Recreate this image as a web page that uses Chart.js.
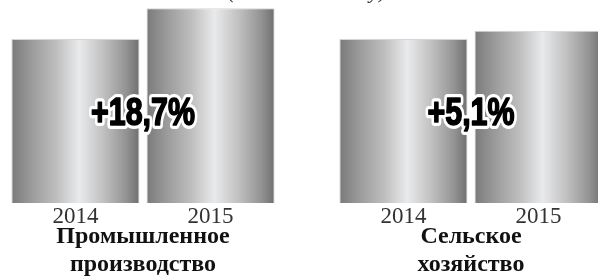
<!DOCTYPE html>
<html>
<head>
<meta charset="utf-8">
<script src="https://cdn.jsdelivr.net/npm/chart.js@4.4.1/dist/chart.umd.min.js"></script>
<style>
  html, body { margin: 0; padding: 0; background: #fff; }
  #wrap { position: relative; width: 598px; height: 277px; overflow: hidden; }
  #chart { position: absolute; left: -21px; top: -21px; }
</style>
</head>
<body>
<div id="wrap"><canvas id="chart" width="656" height="298"></canvas></div>
<script>
// Chart data
const categories = [['Промышленное', 'производство'], ['Сельское', 'хозяйство']];
const years = ['2014', '2015'];
const values2014 = [100, 100];
const values2015 = [118.7, 105.1];
const changes = ['+18,7%', '+5,1%'];
const subtitle = '(в % к 2014 году)';

const CAT_PCT = 0.824;
const BAR_PCT = 0.948;

// Metallic gradient, built per bar from the x scale
const metalFill = (ctx) => {
  const chart = ctx.chart;
  const xs = chart.scales.x;
  if (!chart.chartArea || !xs || ctx.dataIndex === undefined) return '#b0b0b0';
  const center = xs.getPixelForValue(ctx.dataIndex);
  const groupW = xs.width / categories.length * CAT_PCT;
  const slot = groupW / years.length;
  const barCenter = center - groupW / 2 + slot * (ctx.datasetIndex + 0.5);
  const half = slot * BAR_PCT / 2;
  const g = chart.ctx.createLinearGradient(barCenter - half, 0, barCenter + half, 0);
  g.addColorStop(0, '#7a7a7a');
  g.addColorStop(0.15, '#999999');
  g.addColorStop(0.35, '#bebebe');
  g.addColorStop(0.53, '#e9eaec');
  g.addColorStop(0.72, '#c0c0c0');
  g.addColorStop(0.9, '#929292');
  g.addColorStop(1, '#6e6e6e');
  return g;
};

// Year labels under each bar
const yearLabels = {
  id: 'yearLabels',
  afterDatasetsDraw(chart) {
    const c = chart.ctx;
    c.save();
    c.font = '23px "Liberation Serif"';
    c.fillStyle = '#333333';
    c.textAlign = 'center';
    c.textBaseline = 'alphabetic';
    chart.data.datasets.forEach((ds, di) => {
      chart.getDatasetMeta(di).data.forEach(el => {
        c.fillText(years[di], el.x, chart.chartArea.bottom + 20);
      });
    });
    c.restore();
  }
};

// Growth labels over each pair of bars
const changeLabels = {
  id: 'changeLabels',
  afterDatasetsDraw(chart) {
    const c = chart.ctx;
    const xs = chart.scales.x;
    const ys = chart.scales.y;
    c.save();
    c.font = 'bold 38px "Liberation Sans"';
    c.textAlign = 'center';
    c.textBaseline = 'alphabetic';
    c.lineJoin = 'round';
    changes.forEach((txt, i) => {
      const x = xs.getPixelForValue(i);
      const y = ys.getPixelForValue(47.6);
      c.save();
      c.translate(x, y);
      c.scale(0.8, 1);
      c.strokeStyle = '#ffffff';
      c.lineWidth = 8;
      c.strokeText(txt, 0, 0);
      // a thin dark stroke makes the face heavier, closer to the poster type
      c.strokeStyle = '#000000';
      c.lineWidth = 1.6;
      c.strokeText(txt, 0, 0);
      c.fillStyle = '#000000';
      c.fillText(txt, 0, 0);
      c.restore();
    });
    c.restore();
  }
};

const barStyle = {
  backgroundColor: metalFill,
  borderColor: '#d4d4d4',
  borderWidth: 1,
  categoryPercentage: CAT_PCT,
  barPercentage: BAR_PCT,
  clip: false
};

new Chart(document.getElementById('chart'), {
  type: 'bar',
  data: {
    labels: categories,
    datasets: [
      { label: years[0], data: values2014, ...barStyle },
      { label: years[1], data: values2015, ...barStyle }
    ]
  },
  options: {
    responsive: false,
    animation: false,
    devicePixelRatio: 1,
    layout: { padding: 0 },
    plugins: {
      legend: { display: false },
      tooltip: { enabled: false },
      title: {
        display: true,
        text: subtitle,
        color: '#333',
        font: { family: 'Liberation Serif', size: 22, style: 'italic', weight: 'normal', lineHeight: 1.2 },
        padding: 0
      }
    },
    scales: {
      y: { display: false, min: 0, max: 120.5 },
      x: {
        afterFit: (scale) => { scale.height = 74; },
        border: { display: false },
        grid: { display: false, drawTicks: false },
        ticks: {
          padding: 20,
          color: '#111',
          maxRotation: 0,
          autoSkip: false,
          font: { family: 'Liberation Serif', size: 24, weight: 'bold', lineHeight: 1.17 }
        }
      }
    }
  },
  plugins: [yearLabels, changeLabels]
});
</script>
</body>
</html>
